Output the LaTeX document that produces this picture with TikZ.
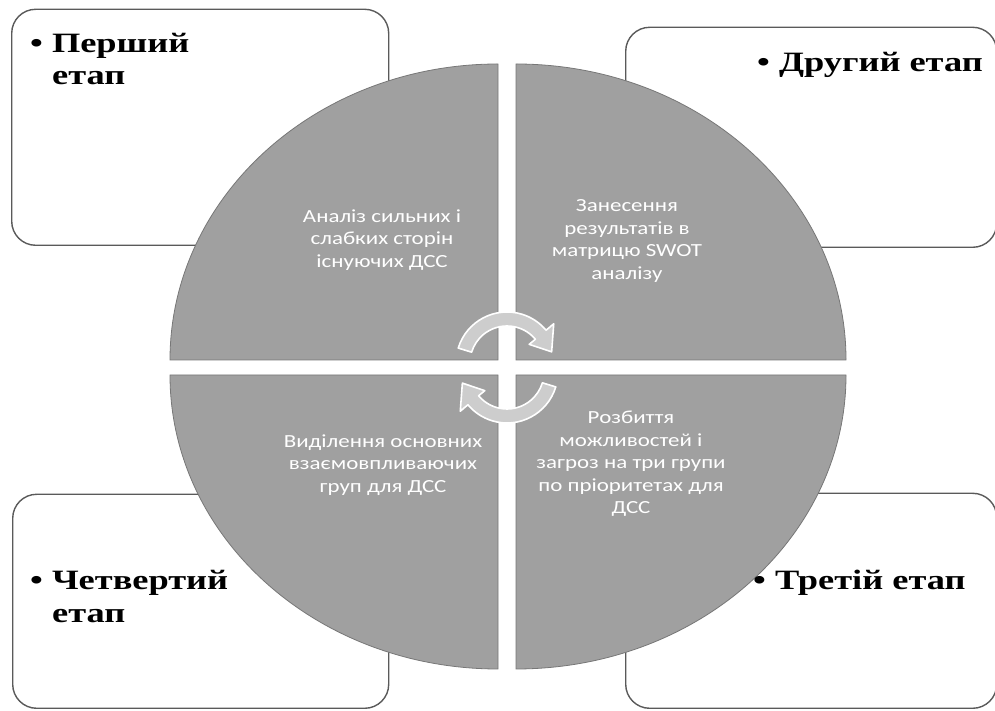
\documentclass[tikz,border=0pt]{standalone}
\usepackage{fontspec}
\setmainfont{Liberation Serif}[FakeStretch=1.3]
\newfontfamily\qfont{Carlito}[FakeStretch=1.24]
\definecolor{quad}{HTML}{A0A0A0}
\definecolor{quadline}{HTML}{777777}
\definecolor{boxline}{HTML}{5A5A5A}
\definecolor{arrowfill}{HTML}{CDCDCD}
\begin{document}
\begin{tikzpicture}[x=1pt,y=1pt,
  stagebox/.style={draw=boxline, line width=1.4pt, fill=white, rounded corners=24pt, anchor=south west, inner sep=0pt},
  quadfill/.style={fill=quad, draw=quadline, line width=0.8pt},
  quadtext/.style={text=white, font=\qfont\fontsize{18.5}{22.5}\selectfont, align=center},
  stagetext/.style={font=\bfseries\fontsize{28}{32}\selectfont, anchor=base west, inner sep=0pt},
  cyclearrow/.style={fill=arrowfill, draw=white, line width=1.6pt, line join=round}]
\useasboundingbox (0,0) rectangle (995,711);
\clip (0,0) rectangle (995,711);
% stage boxes
\node[stagebox, minimum width=377pt, minimum height=236pt] (b1) at (11,465) {};
\node[stagebox, minimum width=371pt, minimum height=220pt] (b2) at (625,463) {};
\node[stagebox, minimum width=376pt, minimum height=214pt] (b4) at (12,2) {};
\node[stagebox, minimum width=371pt, minimum height=215pt] (b3) at (625,2) {};
% quadrants
\draw[quadfill] (498,351) -- (170,351) arc[start angle=180, end angle=90, x radius=328pt, y radius=296pt] -- cycle;
\draw[quadfill] (516,351) -- (516,647) arc[start angle=90, end angle=0, x radius=330pt, y radius=296pt] -- cycle;
\draw[quadfill] (498,336) -- (498,42) arc[start angle=270, end angle=180, x radius=328pt, y radius=294pt] -- cycle;
\draw[quadfill] (516,336) -- (846,336) arc[start angle=0, end angle=-90, x radius=330pt, y radius=294pt] -- cycle;
% cycle arrows
\begin{scope}[shift={(507,348)}]
\draw[cyclearrow] (163:51pt) arc[start angle=163, end angle=40, radius=51pt] -- (40:61pt) -- (14:46pt) -- (40:29pt) -- (40:37pt) arc[start angle=40, end angle=163, radius=37pt] -- cycle;
\end{scope}
\begin{scope}[shift={(507,339)}, rotate=180]
\draw[cyclearrow] (163:51pt) arc[start angle=163, end angle=40, radius=51pt] -- (40:61pt) -- (14:46pt) -- (40:29pt) -- (40:37pt) arc[start angle=40, end angle=163, radius=37pt] -- cycle;
\end{scope}
% quadrant texts
\node[quadtext] (q1) at (382,471) {Аналіз сильних і\\слабких сторін\\існуючих ДСС};
\node[quadtext] (q2) at (627,470) {Занесення\\результатів в\\матрицю SWOT\\аналізу};
\node[quadtext] (q4) at (383,246) {Виділення основних\\взаємовпливаючих\\груп для ДСС};
\node[quadtext] (q3) at (631,247) {Розбиття\\можливостей і\\загроз на три групи\\по пріоритетах для\\ДСС};
% stage labels
\node[stagetext] (s1a) at (30,658) {•\ Перший};
\node[stagetext] (s1b) at (52,626) {етап};
\node[stagetext] (s2) at (757,639) {•\ Другий етап};
\node[stagetext] (s4a) at (30,121) {•\ Четвертий};
\node[stagetext] (s4b) at (52,88) {етап};
\node[stagetext] (s3) at (753,121) {•\ Третій етап};
\end{tikzpicture}
\end{document}
